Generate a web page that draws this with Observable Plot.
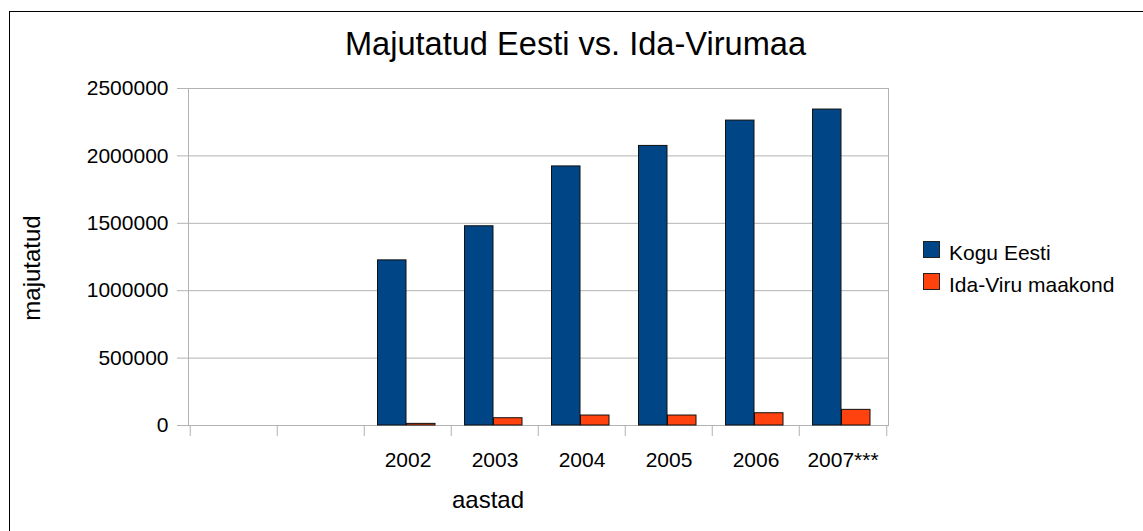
<!DOCTYPE html>
<html><head><meta charset="utf-8">
<script src="https://cdn.jsdelivr.net/npm/d3@7"></script>
<script src="https://cdn.jsdelivr.net/npm/@observablehq/plot@0.6"></script>
<style>
body{margin:0;background:#fff;font-family:"Liberation Sans",Arial,sans-serif;color:#000;}
#wrap{position:relative;width:1143px;height:531px;overflow:hidden;}
#border{position:absolute;left:9px;top:11px;width:1200px;height:600px;border:1px solid #000;box-sizing:border-box;}
#chart{position:absolute;left:0;top:0;}
#title{position:absolute;left:4px;width:1143px;top:28px;line-height:32px;text-align:center;font-size:32.6px;white-space:nowrap;}
.lab{position:absolute;font-size:24px;line-height:24px;white-space:nowrap;text-align:center;width:200px;}
.leg{position:absolute;left:923px;font-size:21px;line-height:20px;white-space:nowrap;}
.sw{display:inline-block;width:15px;height:15px;border:1px solid #222;vertical-align:top;margin-right:9px;margin-top:0px;}
</style></head><body>
<div id="wrap">
<div id="border"></div>
<div id="chart"></div>
<div id="title">Majutatud Eesti vs. Ida-Virumaa</div>
<div class="lab" id="xlab" style="left:388px;top:488px;">aastad</div>
<div class="lab" id="ylab" style="left:-68px;top:256px;transform:rotate(-90deg);">majutatud</div>
<div id="legend"></div>
</div>
<script>
const categories = ["", " ", "2002", "2003", "2004", "2005", "2006", "2007***"];
const koguEesti = [null, null, 1225000, 1478000, 1922000, 2074000, 2262000, 2344000];
const idaViru = [null, null, 12000, 54000, 74000, 74000, 91000, 116000];
const seriesNames = ["Kogu Eesti", "Ida-Viru maakond"];
const seriesColors = ["#004586", "#ff420e"];
const yTicks = [0, 500000, 1000000, 1500000, 2000000, 2500000];

const rows = categories.map((c, i) => ({cat: c, kogu: koguEesti[i], ida: idaViru[i]}));
const W = 1143, H = 531, mL = 188, mR = 255, mT = 88, mB = 106;
const step = (W - mL - mR) / categories.length;
const grid = "#b3b3b3";

const chart = Plot.plot({
  width: W, height: H,
  marginLeft: mL, marginRight: mR, marginTop: mT, marginBottom: mB,
  style: {fontFamily: '"Liberation Sans", Arial, sans-serif', color: "#000", background: "transparent"},
  x: {type: "band", domain: categories, padding: 0},
  y: {domain: [0, 2500000]},
  marks: [
    Plot.ruleY(yTicks, {stroke: grid, strokeWidth: 1}),
    Plot.frame({stroke: grid}),
    Plot.ruleX(categories, {x: d => d, dx: -step / 2, y1: 0, y2: 0, insetBottom: -11, stroke: grid}),
    Plot.ruleX(categories.slice(-1), {x: d => d, dx: step / 2, y1: 0, y2: 0, insetBottom: -11, stroke: grid}),
    Plot.barY(rows.filter(d => d.kogu != null), {x: "cat", y: "kogu", fill: seriesColors[0], stroke: "#111", strokeWidth: 1, insetLeft: 13.5, insetRight: 45}),
    Plot.barY(rows.filter(d => d.ida != null), {x: "cat", y: "ida", fill: seriesColors[1], stroke: "#111", strokeWidth: 1, insetLeft: 42.5, insetRight: 16}),
    Plot.axisY({ticks: yTicks, tickSize: 11, tickPadding: 9, tickFormat: d3.format("d"), stroke: grid, fontSize: 21, label: null}),
    Plot.axisX({tickSize: 0, tickPadding: 27, fontSize: 21, label: null})
  ]
});
document.getElementById("chart").appendChild(chart);

const legend = document.getElementById("legend");
seriesNames.forEach((n, i) => {
  const d = document.createElement("div");
  d.className = "leg";
  d.style.top = (241 + i * 32) + "px";
  d.innerHTML = `<span class="sw" style="background:${seriesColors[i]}"></span><span style="position:relative;top:2px">${n}</span>`;
  legend.appendChild(d);
});
</script>
</body></html>
